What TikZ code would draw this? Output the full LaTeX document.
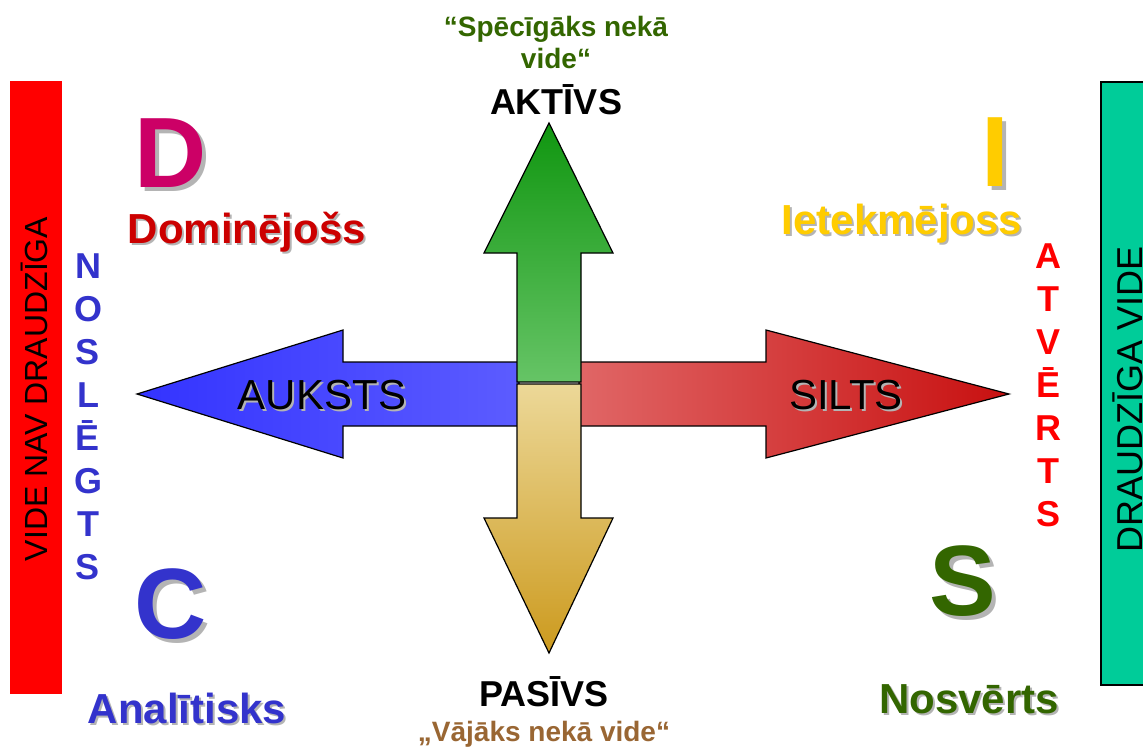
\documentclass[tikz,border=0pt]{standalone}
\usepackage{fontspec}
\setmainfont{Liberation Sans}
\definecolor{cD}{HTML}{CC0066}
\definecolor{cDom}{HTML}{CC0000}
\definecolor{cI}{HTML}{FFCC00}
\definecolor{cC}{HTML}{3333CC}
\definecolor{cS}{HTML}{336600}
\definecolor{cAtv}{HTML}{FF0000}
\definecolor{cVaj}{HTML}{996633}
\definecolor{shadowgray}{HTML}{B4B4B4}
\definecolor{barred}{HTML}{FF0000}
\definecolor{bargreen}{HTML}{00CC99}
\definecolor{upTop}{RGB}{16,150,16}
\definecolor{upBot}{RGB}{102,196,102}
\definecolor{dnTop}{RGB}{236,216,152}
\definecolor{dnBot}{RGB}{204,154,30}
\definecolor{lfL}{RGB}{51,51,255}
\definecolor{lfR}{RGB}{92,92,255}
\definecolor{rtL}{RGB}{224,102,102}
\definecolor{rtR}{RGB}{200,16,16}
\tikzset{
  bigletter/.style={font=\bfseries\fontsize{100}{100}\selectfont, anchor=base, inner sep=0pt},
  label/.style={font=\bfseries\fontsize{42}{42}\selectfont, anchor=base, inner sep=0pt},
  arrowtext/.style={font=\fontsize{42}{42}\selectfont, anchor=base, inner sep=0pt},
  vletter/.style={font=\bfseries\fontsize{36}{36}\selectfont, anchor=base, inner sep=0pt},
  quote/.style={font=\bfseries\fontsize{28}{28}\selectfont, anchor=base, inner sep=0pt},
  pole/.style={font=\bfseries\fontsize{36}{36}\selectfont, anchor=base, inner sep=0pt, text=black},
  bartext/.style={rotate=90, anchor=base, inner sep=0pt, text=black},
  bigarrow/.style={draw=black, line width=1.2pt, line join=miter},
}
\newcommand{\shadowed}[6]{% name, x, y, offset, style, text
  \node[#5, text=shadowgray] at ({#2+#4},{#3+#4}) {#6};
  \node[#5] (#1) at (#2,#3) {#6};
}
\begin{document}
\begin{tikzpicture}[x=1pt,y=-1pt]
\useasboundingbox (0,0) rectangle (1143,747);
\clip (0,0) rectangle (1143,747);
% side bars
\fill[barred] (10,81) rectangle (62,694);
\node[bartext, font=\fontsize{32}{32}\selectfont] (lefttext) at (47,389) {VIDE NAV DRAUDZĪGA};
\draw[fill=bargreen, draw=black, line width=1.2pt] (1101,82) rectangle (1160,685);
\node[bartext, font=\fontsize{36}{36}\selectfont] (righttext) at (1142,399) {DRAUDZĪGA VIDE};
% horizontal arrows
\path[bigarrow, left color=lfL, right color=lfR]
  (519,362) -- (343,362) -- (343,330) -- (137,394) -- (343,458) -- (343,426) -- (519,426) -- cycle;
\path[bigarrow, left color=rtL, right color=rtR]
  (579,362) -- (766,362) -- (766,330) -- (1009,394) -- (766,458) -- (766,426) -- (579,426) -- cycle;
% vertical arrows
\path[bigarrow, top color=dnTop, bottom color=dnBot]
  (517,384) -- (581,384) -- (581,518) -- (613,518) -- (549,653) -- (484,518) -- (517,518) -- cycle;
\path[bigarrow, top color=upTop, bottom color=upBot]
  (517,382) -- (517,253) -- (484,253) -- (549,123) -- (613,253) -- (581,253) -- (581,382) -- cycle;
% arrow texts
\shadowed{aukst}{322}{409}{2}{arrowtext}{AUKSTS}
\shadowed{silts}{846}{409}{2}{arrowtext}{SILTS}
% big letters
\shadowed{bigD}{171}{187}{4}{bigletter, text=cD}{D}
\shadowed{bigI}{995}{186}{4}{bigletter, text=cI}{I}
\shadowed{bigC}{171}{638}{4}{bigletter, text=cC}{C}
\shadowed{bigS}{963}{615}{4}{bigletter, text=cS}{S}
% labels
\shadowed{dom}{247}{243}{2}{label, text=cDom}{Dominējošs}
\shadowed{iet}{902}{234}{2}{label, text=cI}{Ietekmējoss}
\shadowed{ana}{187}{723}{2}{label, text=cC}{Analītisks}
\shadowed{nos}{969}{713}{2}{label, text=cS}{Nosvērts}
% vertical words
\foreach \l [count=\i] in {N,O,S,L,Ē,G,T,S}
  \node[vletter, text=cC] (nl\i) at (88,{278+43*(\i-1)}) {\l};
\foreach \l [count=\i] in {A,T,V,Ē,R,T,S}
  \node[vletter, text=cAtv] (at\i) at (1048,{268+43*(\i-1)}) {\l};
% top and bottom
\node[quote, text=cS] (spec1) at (556,36) {“Spēcīgāks nekā};
\node[quote, text=cS] (spec2) at (556,68) {vide“};
\node[pole] (aktivs) at (556,114) {AKTĪVS};
\node[pole] (pasivs) at (544,706) {PASĪVS};
\node[quote, text=cVaj] (vajaks) at (544,741) {„Vājāks nekā vide“};
\end{tikzpicture}
\end{document}
